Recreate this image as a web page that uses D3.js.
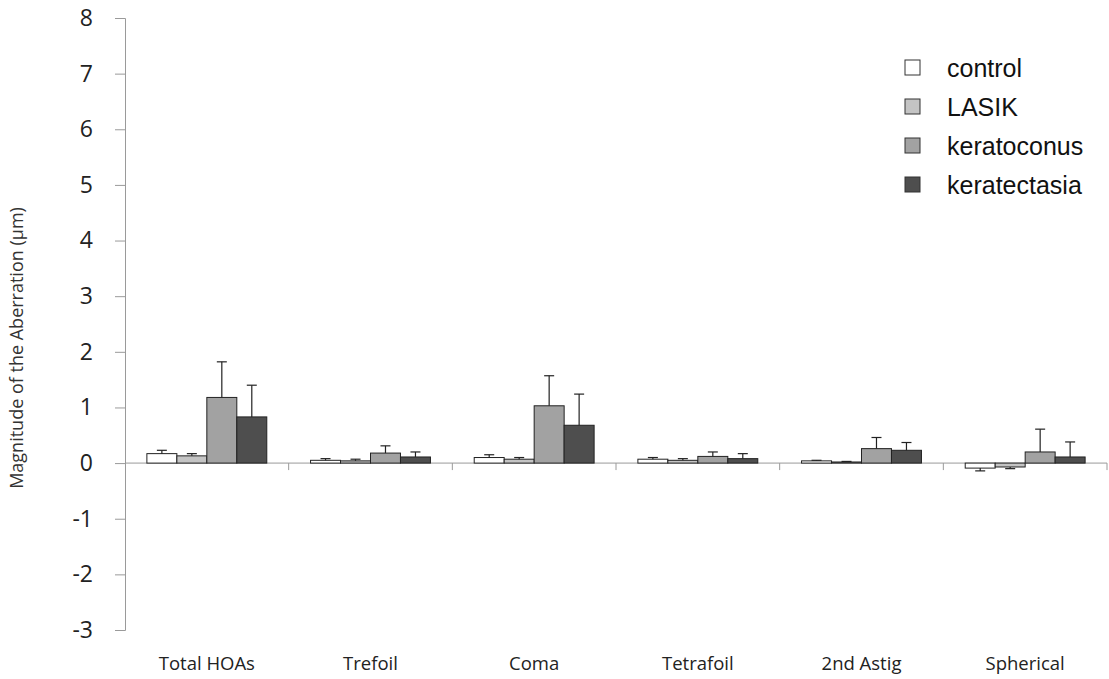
<!DOCTYPE html>
<html>
<head>
<meta charset="utf-8">
<script src="https://cdn.jsdelivr.net/npm/d3@7"></script>
<style>
  body { margin: 0; background: #fff; }
  svg { display: block; }
</style>
</head>
<body>
<svg id="chart" width="1109" height="679"></svg>
<script>
const categories = ['Total HOAs', 'Trefoil', 'Coma', 'Tetrafoil', '2nd Astig', 'Spherical'];
const groups = ['control', 'LASIK', 'keratoconus', 'keratectasia'];

// mean magnitude per category, one array per group
const control = [0.17, 0.05, 0.10, 0.07, 0.04, -0.09];
const lasik = [0.13, 0.04, 0.07, 0.05, 0.02, -0.07];
const keratoconus = [1.18, 0.18, 1.03, 0.12, 0.26, 0.20];
const keratectasia = [0.83, 0.11, 0.68, 0.08, 0.23, 0.11];

// standard deviations (error bars)
const controlSd = [0.06, 0.03, 0.05, 0.03, 0.01, 0.05];
const lasikSd = [0.04, 0.03, 0.03, 0.03, 0.01, 0.03];
const keratoconusSd = [0.64, 0.13, 0.54, 0.08, 0.20, 0.41];
const keratectasiaSd = [0.57, 0.09, 0.56, 0.09, 0.14, 0.27];

const yTicks = [-3, -2, -1, 0, 1, 2, 3, 4, 5, 6, 7, 8];

const series = [control, lasik, keratoconus, keratectasia];
const errors = [controlSd, lasikSd, keratoconusSd, keratectasiaSd];
const fills = ['#ffffff', '#c4c4c4', '#a2a2a2', '#4e4e4e'];

const svg = d3.select('#chart');

const x0 = d3.scaleBand().domain(categories).range([125, 1107]).padding(0);
const x1 = d3.scaleBand().domain(groups).range([0, x0.bandwidth()])
  .paddingInner(0).paddingOuter(0.73);
const y = d3.scaleLinear().domain([-3, 8]).range([630, 18]);

const rows = [];
categories.forEach((c, i) => {
  groups.forEach((g, j) => {
    rows.push({ cat: c, group: g, value: series[j][i], sd: errors[j][i], fill: fills[j] });
  });
});

// y axis (plain hyphen for negatives, as in the original)
const yAxis = svg.append('g')
  .attr('transform', 'translate(125,0)')
  .call(d3.axisLeft(y).tickValues(yTicks).tickSize(10).tickPadding(22).tickFormat((d) => String(d)));
yAxis.select('.domain').attr('stroke', '#9a9a9a');
yAxis.selectAll('.tick line').attr('stroke', '#9a9a9a');
yAxis.selectAll('.tick text')
  .attr('font-family', '"Open Sans", sans-serif')
  .attr('font-size', 23)
  .attr('fill', '#222');

// y title
svg.append('text')
  .attr('transform', 'translate(23,348) rotate(-90)')
  .attr('text-anchor', 'middle')
  .attr('font-family', '"Open Sans", sans-serif')
  .attr('font-size', 18)
  .attr('fill', '#333')
  .text('Magnitude of the Aberration (\u00b5m)');

// zero line and category boundary ticks
svg.append('line')
  .attr('x1', 125).attr('x2', 1107)
  .attr('y1', y(0)).attr('y2', y(0))
  .attr('stroke', '#9a9a9a');
svg.append('g').selectAll('line')
  .data(categories)
  .join('line')
  .attr('x1', (d) => x0(d) + x0.bandwidth())
  .attr('x2', (d) => x0(d) + x0.bandwidth())
  .attr('y1', y(0))
  .attr('y2', y(0) + 7)
  .attr('stroke', '#9a9a9a');

// category labels
const xAxis = svg.append('g')
  .attr('transform', 'translate(0,630)')
  .call(d3.axisBottom(x0).tickSize(0).tickPadding(27));
xAxis.select('.domain').remove();
xAxis.selectAll('.tick text')
  .attr('font-family', '"Open Sans", sans-serif')
  .attr('font-size', 18.5)
  .attr('fill', '#222');

// bars
const bars = svg.append('g');
bars.selectAll('rect')
  .data(rows)
  .join('rect')
  .attr('x', (d) => x0(d.cat) + x1(d.group))
  .attr('y', (d) => y(Math.max(0, d.value)))
  .attr('width', x1.bandwidth())
  .attr('height', (d) => Math.abs(y(d.value) - y(0)))
  .attr('fill', (d) => d.fill)
  .attr('stroke', '#222')
  .attr('stroke-width', 1);

// error bars, drawn away from zero
const err = svg.append('g').attr('stroke', '#222').attr('stroke-width', 1.2);
const cx = (d) => x0(d.cat) + x1(d.group) + x1.bandwidth() / 2;
const tip = (d) => y(d.value + Math.sign(d.value) * d.sd);
err.selectAll('.stem')
  .data(rows)
  .join('line')
  .attr('class', 'stem')
  .attr('x1', cx).attr('x2', cx)
  .attr('y1', (d) => y(d.value))
  .attr('y2', tip);
err.selectAll('.cap')
  .data(rows)
  .join('line')
  .attr('class', 'cap')
  .attr('x1', (d) => cx(d) - 5).attr('x2', (d) => cx(d) + 5)
  .attr('y1', tip).attr('y2', tip);

// legend
const legend = svg.append('g').attr('transform', 'translate(905,60)');
const item = legend.selectAll('g')
  .data(groups)
  .join('g')
  .attr('transform', (d, i) => `translate(0,${i * 39})`);
item.append('rect')
  .attr('width', 15).attr('height', 15)
  .attr('fill', (d, i) => fills[i])
  .attr('stroke', '#333');
item.append('text')
  .attr('x', 42).attr('y', 8)
  .attr('dy', '0.35em')
  .attr('font-family', '"Liberation Sans", Arial, sans-serif')
  .attr('font-size', 25)
  .attr('fill', '#111')
  .text((d) => d);
</script>
</body>
</html>
